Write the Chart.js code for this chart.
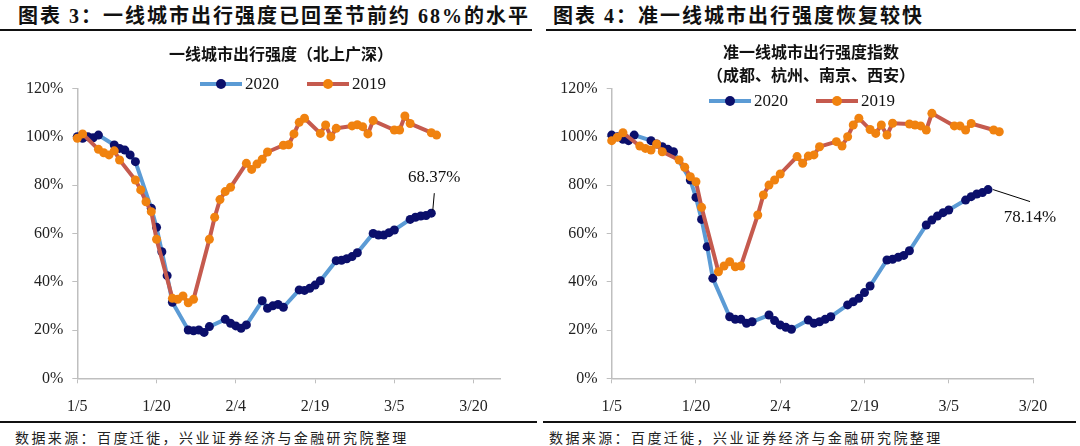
<!DOCTYPE html>
<html>
<head>
<meta charset="utf-8">
<script src="https://cdn.jsdelivr.net/npm/chart.js@4.4.0/dist/chart.umd.min.js"></script>
<style>
  body { margin: 0; background: #fff; }
  #page { position: relative; width: 1080px; height: 446px; overflow: hidden; background: #fff; }
  .head { position: absolute; top: 0; line-height: 28px; font: bold 20px "Liberation Serif", "Noto Sans CJK SC", serif; letter-spacing: 2px; color: #111; white-space: nowrap; }
  .rule { position: absolute; height: 2px; background: #111; }
  .ctitle { position: absolute; width: 540px; text-align: center; font: bold 16px "Noto Sans CJK SC", sans-serif; color: #111; line-height: 23px; }
  .foot { position: absolute; top: 427px; font: 14px "Noto Sans CJK SC", sans-serif; letter-spacing: 2.4px; color: #222; white-space: nowrap; line-height: 20px; }
  .legend { position: absolute; height: 20px; display: flex; align-items: center; font: 17px "Liberation Serif", serif; color: #111; }
  .legend .item { display: flex; align-items: center; margin-right: 28px; }
  .legend .line { position: relative; width: 42px; height: 4px; }
  .legend .dot { position: absolute; left: 16px; top: -3px; width: 10px; height: 10px; border-radius: 50%; }
  .legend .lab { margin-left: 3px; }
  canvas { position: absolute; top: 0; }
</style>
</head>
<body>
<div id="page">
  <div class="head" style="left:18px">图表 3：一线城市出行强度已回至节前约 68%的水平</div>
  <div class="head" style="left:553px">图表 4：准一线城市出行强度恢复较快</div>
  <div class="rule" style="left:0;top:29px;width:532px"></div>
  <div class="rule" style="left:546px;top:29px;width:530px"></div>

  <canvas id="chart-tier1" width="540" height="420" style="left:0"></canvas>
  <canvas id="chart-tier2" width="540" height="420" style="left:540px"></canvas>

  <div class="ctitle" style="left:11px;top:42px">一线城市出行强度（北上广深）</div>
  <div class="ctitle" style="left:541px;top:40px">准一线城市出行强度指数<br>（成都、杭州、南京、西安）</div>

  <div class="legend" id="legend-tier1" style="left:200px;top:74px"></div>
  <div class="legend" id="legend-tier2" style="left:709px;top:91px"></div>

  <div class="rule" style="left:0;top:421px;width:537px"></div>
  <div class="rule" style="left:543px;top:421px;width:533px"></div>
  <div class="foot" style="left:15px">数据来源：百度迁徙，兴业证券经济与金融研究院整理</div>
  <div class="foot" style="left:549px">数据来源：百度迁徙，兴业证券经济与金融研究院整理</div>
</div>

<script>
// x is days after 1/5 (2020 calendar), y is percent
const xTickDays = [0, 15, 30, 45, 60, 75]
const xTickLabels = ['1/5', '1/20', '2/4', '2/19', '3/5', '3/20']
const seriesNames = ['2020', '2019']

// 一线城市 (北上广深)
const tier1Days2020 = [0,1,2,3,4, 7,8,9,10,11, 14,15,16,17,18, 21,22,23,24,25, 28,29,30,31,32,
  35,36,37,38,39, 42,43,44,45,46, 49,50,51,52,53, 56,57,58,59,60, 63,64,65,66,67]
const tier1Values2020 = [100,99.4,100,99.6,100.7, 96.6,95.2,94.5,92.5,89.7, 70.4,62.5,52.4,42.5,31.5,
  20,19.7,20,19,21.4, 24.4,22.8,21.7,20.7,22.1, 32.1,29,30,30.6,29.4, 36.6,36.4,37.3,38.6,40.4,
  48.7,48.9,49.5,50.4,52, 60,59.3,59.3,60.3,61.4, 65.8,66.7,67.2,67.4,68.37]
const tier1Days2019 = [0,1, 4,5,6,7,8, 11,12,13,14,15, 18,19,20,21,22, 25,26,27,28,29, 32,33,34,35,36,
  39,40,41,42,43, 46,47,48,49, 52,53,54,55,56, 60,61,62,63, 67,68]
const tier1Values2019 = [99.4,101.2, 94.8,93.4,92.5,94.2,90.4, 82.1,78,73.1,69,57.6, 33.1,32.7,34.1,31.3,32.7,
  57.6,66.7,74,77.3,79.1, 89,86.5,88.7,90.7,93.7, 96.5,96.7,101.2,106,107.7, 101.4,104.9,100,103.5,
  104.5,105,104.2,101.2,106.7, 102.8,102.8,108.6,105.5, 101.7,100.7]

// 准一线城市 (成都、杭州、南京、西安)
const tier2Days2020 = tier1Days2020
const tier2Values2020 = [100.7,100,99,98.4,100.7, 98.4,97,95.9,94.8,93.8, 82.1,74.9,65.8,54.5,41.4,
  25.5,24.4,24.4,22.8,23.4, 26.2,23.9,22.1,21.1,20.3, 24.1,22.8,23.4,24.4,25.5, 30.4,31.7,33.1,35.5,38.2,
  49,49.3,50.1,50.9,52.8, 63.5,65.5,67.2,68.6,69.7, 73.8,75.2,76.3,76.9,78.14]
const tier2Days2019 = [0,1,2, 5,6,7,8,9, 12,13,14,15,16, 19,20,21,22,23, 26,27,28,29,30, 33,34,35,36,37,
  40,41,42,43,44, 46,47,48,49,50, 53,54,55,56,57, 61,62,63,64, 68,69]
const tier2Values2019 = [98.4,99.8,101.7, 96.2,95.2,94.5,97,93.8, 90.4,87.4,83.5,81.4,70.8, 44.1,46.5,48.3,46.2,46.5,
  67.6,75.9,80,82.1,84.6, 91.8,89,92,92.5,95.9, 98,96.2,100,104.9,107.7, 103,101.4,104.9,100.7,105.6,
  105.3,104.9,104.5,102.8,109.7, 104.5,104.5,102.8,105.5, 102.8,102.1]

const lineColors = ['#5b9bd5', '#c55a4e']
const pointColors = ['#0b0f6b', '#f0820f']

Chart.defaults.font.family = '"Liberation Serif", "Times New Roman", serif'
Chart.defaults.color = '#222'

const toPoints = (days, values) => days.map((d, i) => ({ x: d, y: values[i] }))

// label with a leader line at the last 2020 point
const lastLabel = {
  id: 'lastLabel',
  afterDatasetsDraw(chart, args, opts) {
    const meta = chart.getDatasetMeta(0)
    const pt = meta.data[meta.data.length - 1]
    const values = chart.data.datasets[0].data
    const text = values[values.length - 1].y.toFixed(2) + '%'
    const ctx = chart.ctx
    ctx.save()
    ctx.strokeStyle = '#000'
    ctx.lineWidth = 1
    ctx.beginPath()
    ctx.moveTo(pt.x + opts.line[0], pt.y + opts.line[1])
    ctx.lineTo(pt.x + opts.line[2], pt.y + opts.line[3])
    ctx.stroke()
    ctx.fillStyle = '#111'
    ctx.font = '17px "Liberation Serif"'
    ctx.textAlign = 'center'
    ctx.textBaseline = 'middle'
    ctx.fillText(text, pt.x + opts.text[0], pt.y + opts.text[1])
    ctx.restore()
  }
}

const makeLegend = (id) => {
  const box = document.getElementById(id)
  seriesNames.forEach((name, i) => {
    const item = document.createElement('span')
    item.className = 'item'
    item.innerHTML = '<span class="line" style="background:' + lineColors[i] + '">' +
      '<span class="dot" style="background:' + pointColors[i] + '"></span></span>' +
      '<span class="lab">' + name + '</span>'
    box.appendChild(item)
  })
}

const makeChart = (canvasId, data2020, data2019, xMax, yAxisWidth, padRight, labelOpts) => {
  const ctx = document.getElementById(canvasId).getContext('2d')
  return new Chart(ctx, {
    type: 'line',
    data: {
      datasets: [{
        label: seriesNames[0],
        data: data2020,
        borderColor: lineColors[0],
        backgroundColor: pointColors[0],
        pointBackgroundColor: pointColors[0],
        pointBorderColor: pointColors[0],
        borderWidth: 4,
        pointRadius: 4.5,
        pointBorderWidth: 0,
        tension: 0,
        order: 2,
        clip: false
      }, {
        label: seriesNames[1],
        data: data2019,
        borderColor: lineColors[1],
        backgroundColor: pointColors[1],
        pointBackgroundColor: pointColors[1],
        pointBorderColor: pointColors[1],
        borderWidth: 4,
        pointRadius: 4.5,
        pointBorderWidth: 0,
        tension: 0,
        order: 1,
        clip: false
      }]
    },
    options: {
      responsive: false,
      animation: false,
      layout: { padding: { top: 88.5, right: padRight, bottom: 0, left: 0 } },
      plugins: {
        legend: { display: false },
        tooltip: { enabled: false },
        lastLabel: labelOpts
      },
      scales: {
        x: {
          type: 'linear',
          min: 0,
          max: xMax,
          afterBuildTicks: (scale) => { scale.ticks = xTickDays.map(v => ({ value: v })) },
          afterFit: (scale) => { scale.height = 420 - 378.3 },
          ticks: {
            callback: (v) => xTickLabels[xTickDays.indexOf(v)],
            font: { size: 16 },
            color: '#222',
            padding: 14,
            maxRotation: 0,
            autoSkip: false
          },
          grid: { drawOnChartArea: false, drawTicks: true, tickLength: 5, color: '#bfbfbf' },
          border: { color: '#bfbfbf', width: 1.5 }
        },
        y: {
          min: 0,
          max: 120,
          afterFit: (scale) => { scale.width = yAxisWidth },
          ticks: {
            stepSize: 20,
            callback: (v) => v + '%',
            font: { size: 16 },
            color: '#222',
            padding: 9
          },
          grid: { drawOnChartArea: false, drawTicks: true, tickLength: 5, color: '#bfbfbf' },
          border: { color: '#bfbfbf', width: 1.5 }
        }
      }
    },
    plugins: [lastLabel]
  })
}

makeLegend('legend-tier1')
makeLegend('legend-tier2')

const chartTier1 = makeChart('chart-tier1',
  toPoints(tier1Days2020, tier1Values2020), toPoints(tier1Days2019, tier1Values2019),
  80, 77.3, 40, { line: [1.5, -3, 3, -20], text: [3, -36] })

const chartTier2 = makeChart('chart-tier2',
  toPoints(tier2Days2020, tier2Values2020), toPoints(tier2Days2019, tier2Values2019),
  75, 71.7, 47, { line: [5, 0, 42, 12], text: [42, 28] })
</script>
</body>
</html>
